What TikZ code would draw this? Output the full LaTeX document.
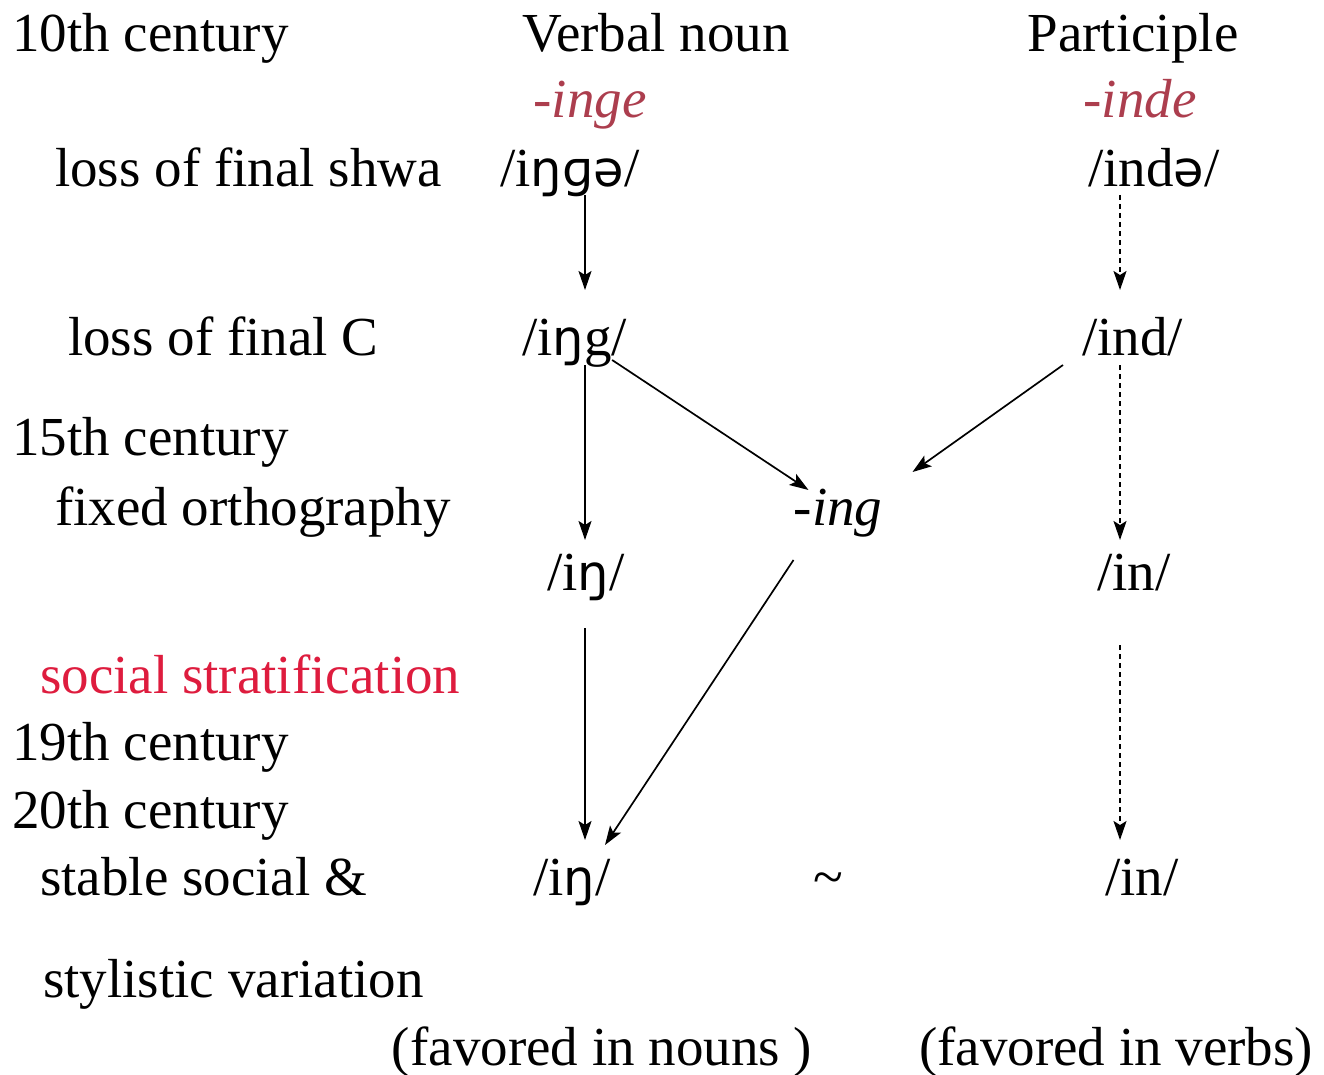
\documentclass[tikz,border=0pt]{standalone}
\usepackage{fontspec}
\setmainfont{Liberation Serif}
\newfontfamily\ipa[Scale=0.9]{DejaVu Sans}
\usepackage{xcolor}
\usetikzlibrary{arrows.meta,positioning,calc}
\definecolor{sufred}{RGB}{172,62,78}
\definecolor{socred}{RGB}{222,28,62}
\newcommand{\eng}{{\ipa ŋ}}
\newcommand{\shwa}{{\ipa ə}}

\begin{document}
\begin{tikzpicture}[
  x=1pt, y=-1pt,
  every node/.style={font=\fontsize{55}{60}\selectfont, inner sep=2pt},
  lbl/.style={anchor=base west},
  hd/.style={anchor=base},
  suf/.style={anchor=base, font=\fontsize{55}{60}\selectfont\itshape, text=sufred},
  form/.style={anchor=base west},
  arr/.style={-{Stealth[length=19pt, width=13pt, inset=4pt]}, line width=1.7pt},
  darr/.style={arr, dash pattern=on 5pt off 4pt}
]
  \useasboundingbox (0,0) rectangle (1324,1075);
  \coordinate (colN) at (585,0);
  \coordinate (colP) at (1120,0);

  % left column
  \node[lbl] (c10)   at (10,52)  {10th century};
  \node[lbl] (shwa)  at (53,187) {loss of final shwa};
  \node[lbl] (finc)  at (66,355) {loss of final C};
  \node[lbl] (c15)   at (10,455) {15th century};
  \node[lbl] (orth)  at (53,525) {fixed orthography};
  \node[lbl, text=socred] (strat) at (38,693) {social stratification};
  \node[lbl] (c19)   at (10,760) {19th century};
  \node[lbl] (c20)   at (10,828) {20th century};
  \node[lbl] (stab)  at (38,895) {stable social \&};
  \node[lbl] (styl)  at (41,997) {stylistic variation};

  % headings
  \node[hd] (vn) at (656,52)  {Verbal noun};
  \node[hd] (pt) at (1133,52) {Participle};
  \node[suf] (inge) at (590,118)  {-inge};
  \node[suf] (inde) at (1140,118) {-inde};

  % forms
  \node[form] (f1)  at (498,187)  {/i\eng{\ipa ɡ}\shwa/};
  \node[form] (f1P) at (1086,187) {/ind\shwa/};
  \node[form] (f2)  at (520,355)  {/i\eng g/};
  \node[form] (f2P) at (1080,355) {/ind/};
  \node[suf, text=black] (ing) at (838,525) {-ing};
  \node[form] (f3)  at (545,590)  {/i\eng/};
  \node[form] (f3P) at (1095,590) {/in/};
  \node[form] (f4)  at (531,895)  {/i\eng/};
  \node[hd]   (tld) at (828,895)  {\textasciitilde};
  \node[form] (f4P) at (1103,895) {/in/};
  \node[hd] (fn) at (602,1065) {(favored in nouns )};
  \node[hd] (fv) at (1116,1065) {(favored in verbs)};

  % arrows
  \draw[arr] ($(f1.base -| colN)+(0,8)$) -- ($(f2.base -| colN)+(0,-65)$);
  \draw[arr] ($(f2.base -| colN)+(0,10)$) -- ($(f3.base -| colN)+(0,-50)$);
  \draw[arr] ($(f3.base -| colN)+(0,38)$) -- ($(f4.base -| colN)+(0,-55)$);
  \draw[darr] ($(f1P.base -| colP)+(0,8)$) -- ($(f2P.base -| colP)+(0,-65)$);
  \draw[darr] ($(f2P.base -| colP)+(0,10)$) -- ($(f3P.base -| colP)+(0,-50)$);
  \draw[darr] ($(f3P.base -| colP)+(0,55)$) -- ($(f4P.base -| colP)+(0,-55)$);
  \draw[arr] ($(f2.base east)+(-17,5)$) -- ($(ing.base west)+(17,-35)$);
  \draw[arr] ($(f2P.base west)+(-17,10)$) -- ($(ing.base east)+(28,-53)$);
  \draw[arr] ($(ing.base west)+(2,35)$) -- ($(f4.base west)+(74,-50)$);
\end{tikzpicture}
\end{document}
